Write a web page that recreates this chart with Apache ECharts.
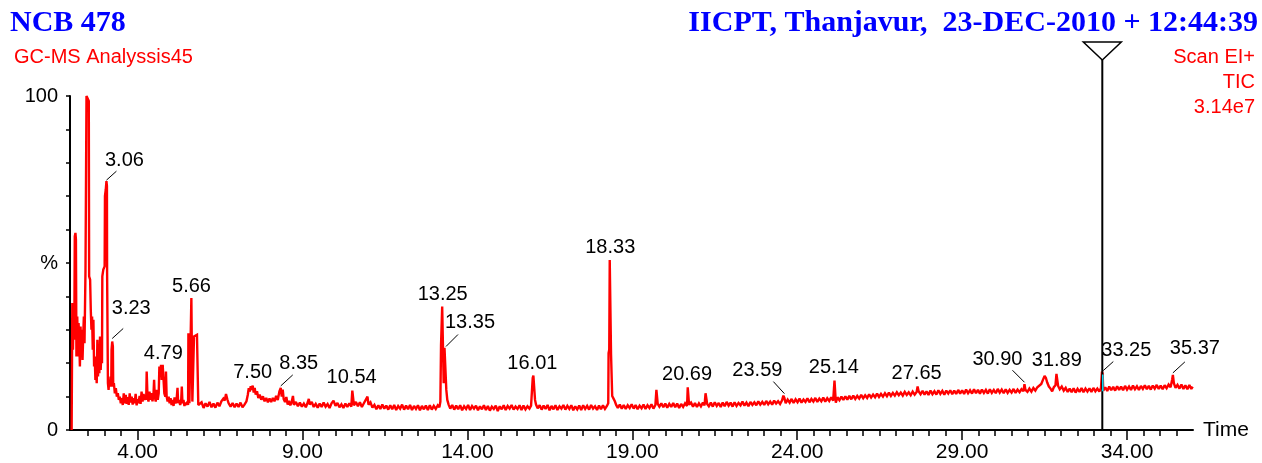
<!DOCTYPE html>
<html>
<head>
<meta charset="utf-8">
<script src="https://cdn.jsdelivr.net/npm/echarts/dist/echarts.min.js"></script>
<style>
html,body{margin:0;padding:0;background:#fff;}
#chart{width:1262px;height:463px;}
</style>
</head>
<body>
<div id="chart"></div>
<script>
// ---------------- DATA ----------------
// TIC trace, [retention time (min), relative intensity (%)]
const traceEarly = [
[2.00,0],[2.015,0],[2.02,38],[2.04,24],[2.06,36],[2.08,27],[2.095,58],[2.115,59],[2.13,57],[2.145,22],[2.17,34],[2.19,22],[2.21,32],[2.23,27],[2.25,19],[2.27,31],[2.29,23],[2.31,30],[2.33,21],[2.35,28],[2.37,34],[2.39,26],[2.42,48],[2.44,48.5],[2.45,100],[2.49,99.5],[2.52,98.5],[2.53,46],[2.56,45],[2.58,36],[2.60,30],[2.62,34],[2.64,24],[2.66,33],[2.68,19],[2.70,22],[2.72,15],[2.74,18],[2.76,14],[2.78,27],[2.80,16],[2.82,25],[2.84,17],[2.86,28],[2.88,18],[2.90,23],[2.92,20],[2.93,46],[2.96,48],[3.00,49],[3.01,70],[3.035,72],[3.055,74.5],[3.07,73],[3.075,47],[3.09,47],[3.10,14],[3.12,12],[3.14,15],[3.16,13],[3.18,16],[3.20,13],[3.21,24],[3.23,26.5],[3.25,25],[3.26,13],[3.28,14],[3.31,11],[3.34,12.5],[3.37,10],[3.40,11],[3.43,9],[3.46,10],[3.49,8],[3.52,9.5],[3.55,7.5],[3.58,11],[3.61,8],[3.64,10.5],[3.67,7.8],[3.70,9.8],[3.73,7.5],[3.76,11],[3.79,8.2],[3.82,10],[3.85,7.6],[3.88,9.5],[3.91,8],[3.94,10.8],[3.97,7.4],[4.00,9.2],[4.03,8],[4.06,10.2],[4.09,7.8],[4.12,11.5],[4.15,8.5],[4.18,10.8],[4.21,9],[4.24,10.5],[4.26,9],[4.275,17.5],[4.29,17.8],[4.30,10],[4.33,8.5],[4.36,11.5],[4.39,9],[4.42,11],[4.45,8.6],[4.48,10.4],[4.50,15],[4.52,10],[4.55,8.5],[4.58,12],[4.61,9],[4.64,11],[4.66,19],[4.69,16],[4.71,19.5],[4.73,15],[4.76,19.5],[4.78,19.5],[4.81,11],[4.84,10],[4.86,17.5],[4.88,10],[4.91,8.5],[4.94,10],[4.97,8],[5.00,9.5],[5.03,7.5],[5.06,9],[5.09,7.2],[5.12,9.8],[5.15,8],[5.18,8.8],[5.21,12.6],[5.23,8],[5.26,9],[5.29,7.5],[5.32,8.5],[5.34,13],[5.36,8],[5.39,9],[5.42,7.2],[5.45,8.2],[5.48,7.5],[5.51,8.5],[5.53,7.5],[5.54,29],[5.555,28.5],[5.57,8],[5.60,7.8],[5.62,8],[5.63,39.5],[5.645,39.5],[5.66,8.5],[5.70,8],[5.71,28],[5.74,28.5],[5.77,27.5],[5.80,28.5],[5.83,28],[5.84,7.5]
];
const traceMid = [
[5.88,7.0],[5.94,8.3],[6.00,6.6],[6.06,8.0],[6.12,7.0],[6.18,8.4],[6.24,6.8],[6.30,7.9],[6.36,6.7],[6.42,8.2],[6.48,7.1],[6.54,8.6],[6.60,9.4],[6.64,8.8],[6.68,10.8],[6.72,9.2],[6.76,8.0],[6.82,7.0],[6.88,8.1],[6.94,6.8],[7.00,7.9],[7.06,6.9],[7.12,8.2],[7.18,6.8],[7.24,7.6],[7.30,8.6],[7.34,10.5],[7.37,12.5],[7.40,11.5],[7.43,13.1],[7.46,12.0],[7.49,13.3],[7.52,11.2],[7.55,12.6],[7.58,10.6],[7.62,11.6],[7.66,9.6],[7.70,10.6],[7.75,9.1],[7.80,10.1],[7.85,8.6],[7.90,9.6],[7.95,8.3],[8.00,9.4],[8.05,8.4],[8.10,9.6],[8.15,8.6],[8.20,10.2],[8.25,9.0],[8.30,11.6],[8.34,12.6],[8.37,10.0],[8.40,12.1],[8.43,9.2],[8.47,8.4],[8.51,9.9],[8.55,7.6],[8.59,8.7],[8.63,7.4],[8.67,8.3],[8.71,10.2],[8.74,7.5],[8.80,8.4],[8.86,7.1],[8.92,8.2],[8.98,7.0],[9.04,7.9],[9.10,6.8],[9.16,8.3],[9.19,9.3],[9.22,7.6],[9.28,8.4],[9.34,6.9],[9.40,7.8],[9.46,6.7],[9.52,7.9],[9.58,6.9],[9.64,8.2],[9.70,7.0],[9.76,7.8],[9.82,6.6],[9.88,8.0],[9.94,8.8],[10.00,7.2],[10.06,8.1],[10.12,6.8],[10.18,7.7],[10.24,6.6],[10.30,7.9],[10.36,6.9],[10.42,8.0],[10.48,7.0],[10.51,11.8],[10.53,11.6],[10.56,7.4],[10.62,8.4],[10.68,7.1],[10.74,8.3],[10.80,6.9],[10.86,8.0],[10.92,7.5],[10.97,10.0],[11.00,7.6],[11.06,8.3],[11.12,6.7],[11.18,7.5],[11.24,6.2],[11.30,7.4],[11.36,6.3],[11.42,7.6],[11.48,6.4],[11.54,7.3],[11.60,6.1],[11.66,7.4],[11.72,6.2],[11.78,7.5],[11.84,6.0],[11.90,7.2],[11.96,6.4],[12.02,7.6],[12.08,6.1],[12.14,7.3],[12.20,6.2],[12.26,7.5],[12.32,6.0],[12.38,7.2],[12.44,6.3],[12.50,7.4],[12.56,5.9],[12.62,7.2],[12.68,6.2],[12.74,7.3],[12.80,6.0],[12.86,7.4],[12.92,6.1],[12.98,7.2],[13.04,6.3],[13.10,7.4],[13.15,6.8],[13.18,8.5],[13.20,25.5],[13.225,26.0],[13.235,37.0],[13.265,36.6],[13.28,14.0],[13.305,24.6],[13.34,25.0],[13.36,12.0],[13.39,9.0],[13.43,7.6]
];
const traceLate = [
[13.48,6.4],[13.54,7.5],[13.60,6.1],[13.66,7.3],[13.72,6.2],[13.78,7.4],[13.84,5.9],[13.90,7.1],[13.96,6.3],[14.02,7.5],[14.08,6.0],[14.14,7.2],[14.20,6.4],[14.26,7.3],[14.32,5.9],[14.38,7.1],[14.44,6.2],[14.50,7.4],[14.56,6.0],[14.62,7.2],[14.68,5.8],[14.74,7.0],[14.80,6.3],[14.86,7.3],[14.92,5.7],[14.98,7.1],[15.04,6.2],[15.10,7.4],[15.16,6.0],[15.22,7.2],[15.28,6.4],[15.34,7.5],[15.40,6.1],[15.46,7.0],[15.52,6.3],[15.58,7.4],[15.64,6.0],[15.70,7.3],[15.76,6.2],[15.82,7.1],[15.88,6.4],[15.93,7.3],[15.97,7.6],[15.98,15.6],[16.00,16.3],[16.03,15.8],[16.05,9.0],[16.08,7.6],[16.13,6.5],[16.19,7.4],[16.25,6.1],[16.31,7.3],[16.37,6.3],[16.43,7.5],[16.49,5.9],[16.55,7.2],[16.61,6.2],[16.67,7.4],[16.73,6.0],[16.79,7.1],[16.85,6.4],[16.91,7.5],[16.97,6.1],[17.03,7.2],[17.09,6.3],[17.15,7.4],[17.21,5.9],[17.27,7.1],[17.33,6.2],[17.39,7.3],[17.45,6.0],[17.51,7.4],[17.57,6.3],[17.63,7.2],[17.69,6.1],[17.75,7.5],[17.81,6.4],[17.87,7.1],[17.93,6.0],[17.99,7.3],[18.05,6.2],[18.11,7.4],[18.17,6.3],[18.23,7.2],[18.27,8.0],[18.28,23.0],[18.30,24.0],[18.315,50.9],[18.34,50.9],[18.355,22.5],[18.37,22.0],[18.39,10.2],[18.43,9.4],[18.47,8.6],[18.51,7.5],[18.56,6.6],[18.62,7.6],[18.68,6.4],[18.74,7.5],[18.80,6.3],[18.86,7.4],[18.92,6.6],[18.98,7.7],[19.04,6.4],[19.10,7.5],[19.16,6.2],[19.22,7.3],[19.28,6.5],[19.34,7.6],[19.40,6.3],[19.46,7.4],[19.52,6.6],[19.58,7.7],[19.64,6.4],[19.70,7.5],[19.73,12.0],[19.75,11.6],[19.77,7.8],[19.82,7.0],[19.88,8.0],[19.94,6.8],[20.00,7.9],[20.06,6.7],[20.12,7.8],[20.18,6.9],[20.24,8.1],[20.30,6.8],[20.36,7.9],[20.42,6.6],[20.48,7.8],[20.54,6.9],[20.60,8.0],[20.66,7.2],[20.68,12.8],[20.70,12.6],[20.72,7.6],[20.78,8.2],[20.84,7.0],[20.90,8.1],[20.96,6.9],[21.02,8.0],[21.08,7.1],[21.14,8.2],[21.19,7.4],[21.22,11.0],[21.24,10.6],[21.27,7.8]
];
const traceTail = [
[21.32,7.1],[21.38,8.2],[21.44,7.0],[21.50,8.3],[21.56,7.2],[21.62,8.1],[21.68,6.9],[21.74,8.2],[21.80,7.1],[21.86,8.4],[21.92,7.3],[21.98,8.2],[22.04,7.0],[22.10,8.3],[22.16,7.2],[22.22,8.1],[22.28,7.4],[22.34,8.5],[22.40,7.3],[22.46,8.2],[22.52,7.1],[22.58,8.4],[22.64,7.5],[22.70,8.3],[22.76,7.4],[22.82,8.6],[22.88,7.6],[22.94,8.4],[23.00,7.5],[23.06,8.7],[23.12,7.7],[23.18,8.5],[23.24,7.6],[23.30,8.8],[23.36,7.9],[23.42,8.6],[23.48,7.8],[23.54,8.9],[23.58,10.3],[23.61,9.6],[23.65,8.0],[23.71,9.1],[23.77,8.2],[23.83,9.3],[23.89,8.1],[23.95,9.2],[24.01,8.3],[24.07,9.4],[24.13,8.2],[24.19,9.1],[24.25,8.4],[24.31,9.5],[24.37,8.3],[24.43,9.3],[24.49,8.5],[24.55,9.6],[24.61,8.4],[24.67,9.4],[24.73,8.6],[24.79,9.7],[24.85,8.5],[24.91,9.5],[24.97,8.7],[25.03,9.8],[25.09,8.8],[25.13,14.8],[25.15,14.4],[25.17,8.2],[25.22,9.8],[25.28,8.9],[25.34,10.0],[25.40,9.0],[25.46,10.1],[25.52,9.1],[25.58,10.2],[25.64,9.2],[25.70,10.3],[25.76,9.3],[25.82,10.2],[25.88,9.4],[25.94,10.5],[26.00,9.5],[26.06,10.4],[26.12,9.6],[26.18,10.7],[26.24,9.7],[26.30,10.6],[26.36,9.8],[26.42,10.9],[26.48,9.9],[26.54,10.8],[26.60,10.0],[26.66,11.0],[26.72,10.1],[26.78,11.2],[26.84,10.2],[26.90,11.1],[26.96,10.3],[27.02,11.3],[27.08,10.4],[27.14,11.2],[27.20,10.3],[27.26,11.4],[27.32,10.5],[27.38,11.3],[27.44,10.4],[27.50,11.5],[27.56,10.6],[27.62,11.4],[27.65,13.0],[27.68,11.6],[27.74,10.7],[27.80,11.7],[27.86,10.6],[27.92,11.6],[27.98,10.5],[28.04,11.8],[28.10,10.7],[28.16,11.6],[28.22,10.6],[28.28,11.9],[28.34,10.8],[28.40,11.7],[28.46,10.6],[28.52,11.8],[28.58,10.9],[28.64,11.9],[28.70,10.7],[28.76,11.8],[28.82,10.8],[28.88,12.0],[28.94,10.9],[29.00,11.9],[29.06,10.8],[29.12,12.1],[29.18,11.0],[29.24,11.9],[29.30,10.9],[29.36,12.2],[29.42,11.0],[29.48,12.0],[29.54,10.9],[29.60,12.1],[29.66,11.1],[29.72,12.0],[29.78,10.9],[29.84,12.2],[29.90,11.1],[29.96,12.0],[30.02,11.0],[30.08,12.3],[30.14,11.2],[30.20,12.1],[30.26,11.0],[30.32,12.2],[30.38,11.1],[30.44,12.0],[30.50,11.2],[30.56,12.3],[30.62,11.1],[30.68,12.1],[30.74,11.3],[30.80,12.2],[30.86,11.6],[30.89,13.7],[30.92,12.0],[30.98,11.4],[31.04,12.4],[31.10,11.5],[31.16,12.6],[31.22,11.8],[31.28,12.8],[31.34,12.6],[31.40,13.8],[31.45,15.0],[31.50,16.2],[31.54,15.6],[31.58,14.2],[31.63,13.0],[31.68,12.4],[31.73,11.6],[31.78,12.8],[31.83,13.4],[31.86,16.8],[31.88,16.4],[31.91,13.2],[31.96,12.2],[32.02,13.0],[32.08,11.8],[32.14,12.6],[32.20,11.4],[32.26,12.4],[32.32,11.3],[32.38,12.5],[32.44,11.2],[32.50,12.3],[32.56,11.4],[32.62,12.6],[32.68,11.3],[32.74,12.4],[32.80,11.5],[32.86,12.5],[32.92,11.4],[32.98,12.6],[33.04,11.6],[33.10,12.4],[33.16,11.5],[33.21,12.6],[33.24,17.5],[33.26,16.8],[33.28,11.8],[33.34,12.8],[33.40,11.7],[33.46,13.0],[33.52,11.9],[33.58,12.9],[33.64,11.8],[33.70,13.1],[33.76,12.0],[33.82,13.0],[33.88,11.9],[33.94,13.2],[34.00,12.1],[34.06,13.0],[34.12,12.0],[34.18,13.3],[34.24,12.2],[34.30,13.1],[34.36,12.0],[34.42,13.2],[34.48,12.3],[34.54,13.4],[34.60,12.2],[34.66,13.2],[34.72,12.1],[34.78,13.3],[34.84,12.4],[34.90,13.5],[34.96,12.3],[35.02,13.3],[35.08,12.2],[35.14,13.4],[35.20,12.5],[35.26,13.6],[35.32,12.8],[35.37,15.2],[35.39,16.5],[35.42,14.0],[35.47,12.6],[35.53,13.5],[35.59,12.4],[35.65,13.6],[35.71,12.3],[35.77,13.4],[35.83,12.2],[35.89,13.5],[35.95,12.3],[35.99,13.0]
];

// Labelled peaks
const peakText    = ['3.06','3.23','4.79','5.66','7.50','8.35','10.54','13.25','13.35','16.01','18.33','20.69','23.59','25.14','27.65','30.90','31.89','33.25','35.37'];
const peakTimes   = [3.055,3.23,4.78,5.635,7.49,8.34,10.52,13.25,13.32,16.00,18.33,20.69,23.58,25.14,27.65,30.89,31.87,33.25,35.39];
const peakHeights = [74.5,26.5,19.5,39.5,13.3,12.6,11.8,37.0,25.0,16.3,50.9,12.8,10.3,14.8,13.0,13.7,16.8,17.5,16.5];

// Axis ticks
const majorTicks = [4,9,14,19,24,29,34];
const majorTickText = ['4.00','9.00','14.00','19.00','24.00','29.00','34.00'];
const minorTicks = [2.5,3.0,3.5,4.0,4.5,5.0,5.5,6.0,6.5,7.0,7.5,8.0,8.5,9.0,9.5,10.0,10.5,11.0,11.5,12.0,12.5,13.0,13.5,14.0,14.5,15.0,15.5,16.0,16.5,17.0,17.5,18.0,18.5,19.0,19.5,20.0,20.5,21.0,21.5,22.0,22.5,23.0,23.5,24.0,24.5,25.0,25.5,26.0,26.5,27.0,27.5,28.0,28.5,29.0,29.5,30.0,30.5,31.0,31.5,32.0,32.5,33.0,33.5,34.0,34.5,35.0,35.5];
const yTickValues = [0,50,100];
const yTickText = ['0','%','100'];
const cursorTime = 33.25;

// ---------------- LAYOUT / STYLE ----------------
const peakLayout = [
 {dx:18,dy:-21,line:[0,-1,10,-10]},
 {dx:19,dy:-33,line:[0,-3,11,-13]},
 {dx:0,dy:-11},
 {dx:0,dy:-12},
 {dx:0,dy:-13},
 {dx:18,dy:-24,line:[0,-2,12,-13]},
 {dx:-1,dy:-13},
 {dx:0,dy:-12},
 {dx:25,dy:-24,line:[1,0,13,-12]},
 {dx:-1,dy:-12},
 {dx:0,dy:-12.5},
 {dx:-1,dy:-12.5},
 {dx:-26,dy:-25,line:[1,-2,-10,-14]},
 {dx:-1,dy:-13},
 {dx:-1,dy:-13.5},
 {dx:-27,dy:-25,line:[0,-2,-12,-14]},
 {dx:0,dy:-13.5},
 {dx:24,dy:-21,line:[1,-1,11,-10]},
 {dx:22,dy:-26,line:[0,-2,12,-13]}
];

const SANS = 'Liberation Sans';
const SERIF = 'Liberation Serif';
const trace = traceEarly.concat(traceMid, traceLate, traceTail);
const X_MIN = 1.95, X_MAX = 36.0;

const chart = echarts.init(document.getElementById('chart'), null, {renderer:'canvas'});
const option = {
  backgroundColor:'#ffffff',
  animation:false,
  title:[
    {text:'NCB 478', left:10, top:8, padding:0, textStyle:{color:'#0000ff', fontFamily:SERIF, fontWeight:'bold', fontSize:30}},
    {text:'IICPT, Thanjavur,  23-DEC-2010 + 12:44:39', right:4, top:8, padding:0, textStyle:{color:'#0000ff', fontFamily:SERIF, fontWeight:'bold', fontSize:30}},
    {text:'GC-MS Analyssis45', left:14, top:47, padding:0, textStyle:{color:'#ff0000', fontFamily:SANS, fontWeight:'normal', fontSize:20}},
    {text:'Scan EI+', right:7, top:47, padding:0, textStyle:{color:'#ff0000', fontFamily:SANS, fontWeight:'normal', fontSize:20}},
    {text:'TIC', right:7, top:72, padding:0, textStyle:{color:'#ff0000', fontFamily:SANS, fontWeight:'normal', fontSize:20}},
    {text:'3.14e7', right:7, top:97, padding:0, textStyle:{color:'#ff0000', fontFamily:SANS, fontWeight:'normal', fontSize:20}}
  ],
  grid:{left:70, right:69, top:96, bottom:33, containLabel:false},
  xAxis:[
    {type:'value', min:X_MIN, max:X_MAX, position:'bottom',
     axisLine:{show:true, onZero:false, lineStyle:{color:'#000', width:2}},
     axisTick:{show:true, customValues:minorTicks, length:6, lineStyle:{color:'#000', width:1.5}},
     axisLabel:{show:false}, splitLine:{show:false}},
    {type:'value', min:X_MIN, max:X_MAX, position:'bottom',
     axisLine:{show:false, onZero:false},
     axisTick:{show:true, customValues:majorTicks, length:10, lineStyle:{color:'#000', width:1.5}},
     axisLabel:{show:true, customValues:majorTicks, margin:12, color:'#000', fontFamily:SANS, fontSize:21,
       formatter:function(v){const i=majorTicks.indexOf(v); return i>=0?majorTickText[i]:'';}},
     name:'Time', nameLocation:'end', nameGap:10,
     nameTextStyle:{color:'#000', fontFamily:SANS, fontSize:21, verticalAlign:'middle', align:'left'},
     splitLine:{show:false}}
  ],
  yAxis:{type:'value', min:0, max:100, interval:10,
     axisLine:{show:true, onZero:false, lineStyle:{color:'#000', width:2}},
     axisTick:{show:true, length:4, lineStyle:{color:'#000', width:1.5}},
     axisLabel:{margin:12, color:'#000', fontFamily:SANS, fontSize:20,
       formatter:function(v){const i=yTickValues.indexOf(v); return i>=0?yTickText[i]:'';}},
     splitLine:{show:false}},
  series:[
    {type:'line', name:'TIC', xAxisIndex:0, data:trace, showSymbol:false, symbol:'none',
     lineStyle:{color:'#ff0000', width:2.4, join:'miter', miterLimit:2}, silent:true, z:3},
    {type:'custom', name:'cursor', xAxisIndex:0, data:[[cursorTime, 0]], silent:true, z:4, clip:false,
     renderItem:function(params, api){
       const t = api.value(0);
       const pb = api.coord([t, 0]);
       const pt = api.coord([t, 100]);
       const x = pb[0];
       const apexY = pt[1]-36, topY = pt[1]-54;
       const c1 = api.coord([t, 11.6]), c2 = api.coord([t, 16.6]);
       return {type:'group', children:[
         {type:'line', shape:{x1:x, y1:pb[1], x2:x, y2:apexY}, style:{stroke:'#000', lineWidth:2}},
         {type:'line', shape:{x1:x+0.5, y1:c1[1], x2:x+0.5, y2:c2[1]}, style:{stroke:'#00e5ff', lineWidth:1.5}},
         {type:'polygon', shape:{points:[[x-19, topY],[x+19, topY],[x, apexY]]}, style:{fill:'#fff', stroke:'#000', lineWidth:1.5}}
       ]};
     }},
    {type:'custom', name:'peakLabels', xAxisIndex:0, silent:true, z:5, clip:false,
     data:peakTimes.map(function(t,i){return [t, peakHeights[i]];}),
     renderItem:function(params, api){
       const i = params.dataIndex;
       const p = api.coord([api.value(0), api.value(1)]);
       const L = peakLayout[i];
       const ch = [{type:'text', x:p[0]+L.dx, y:p[1]+L.dy,
         style:{text:peakText[i], fill:'#000', fontFamily:SANS, fontSize:20, align:'center', verticalAlign:'middle'}}];
       if (L.line) {
         ch.push({type:'line', shape:{x1:p[0]+L.line[0], y1:p[1]+L.line[1], x2:p[0]+L.line[2], y2:p[1]+L.line[3]},
           style:{stroke:'#000', lineWidth:1}});
       }
       return {type:'group', children:ch};
     }}
  ]
};
chart.setOption(option);
</script>
</body>
</html>
